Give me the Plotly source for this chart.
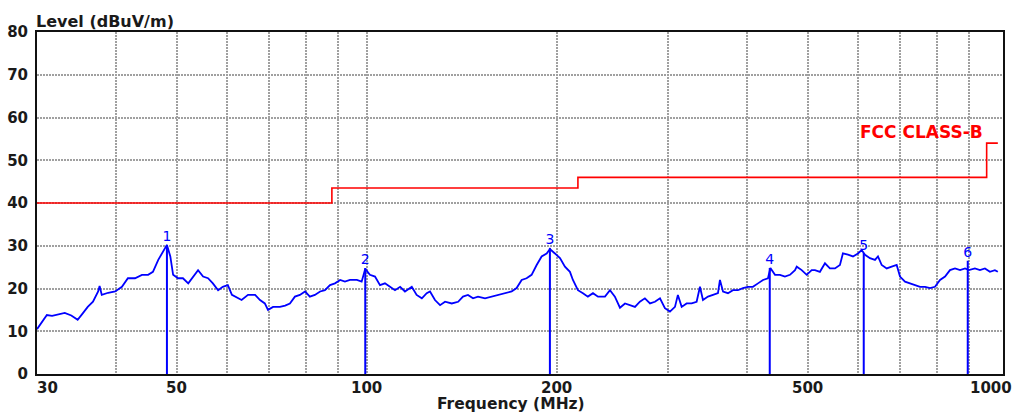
import math
import plotly.graph_objects as go

# ---- data ----
freq_mhz = [30.0, 30.5, 31.1, 31.7, 32.4, 33.2, 34.0, 34.8, 35.5, 36.1, 36.8, 37.5, 37.7, 38.0, 38.9, 39.9,
            40.9, 41.8, 42.9, 44.0, 45.0, 45.8, 46.7, 47.5, 48.2, 48.8, 49.3, 50.2, 51.1, 52.1, 53.0, 54.0,
            55.0, 56.0, 57.0, 58.1, 59.1, 60.2, 61.1, 61.8, 63.3, 64.8, 66.5, 67.7, 68.9, 69.7, 71.0, 72.8,
            74.2, 75.5, 76.9, 78.3, 79.8, 81.2, 82.7, 84.3, 85.8, 87.4, 89.0, 90.7, 92.3, 94.0, 96.4, 98.1,
            99.4, 101.1, 103.0, 104.9, 106.8, 108.8, 110.8, 112.9, 114.9, 117.8, 119.9, 122.2, 124.4, 125.9,
            128.2, 130.6, 133.0, 136.3, 139.5, 142.0, 144.6, 147.3, 150.0, 153.9, 157.7, 161.3, 165.5, 169.6,
            172.7, 175.9, 179.1, 182.4, 185.8, 189.2, 192.7, 195.0, 198.6, 202.3, 206.0, 209.8, 212.1, 216.0,
            220.0, 224.0, 228.2, 232.4, 238.4, 242.8, 247.2, 251.8, 256.5, 261.2, 266.0, 270.8, 275.8, 281.0,
            286.1, 291.4, 296.7, 302.2, 307.8, 311.1, 315.4, 321.2, 327.1, 333.1, 337.2, 340.9, 347.2, 353.6,
            360.1, 362.7, 366.8, 373.5, 380.3, 387.3, 394.5, 401.8, 409.1, 416.7, 424.4, 432.2, 436.0, 443.4,
            451.5, 459.8, 468.3, 477.0, 480.0, 488.8, 497.8, 506.9, 513.0, 522.4, 532.1, 541.8, 551.9, 562.0,
            568.1, 578.7, 589.4, 600.2, 608.4, 615.8, 627.1, 638.7, 645.7, 654.5, 666.6, 678.8, 691.3, 699.7,
            712.6, 725.7, 739.0, 752.8, 766.6, 780.7, 795.0, 809.8, 824.7, 839.8, 855.3, 871.2, 887.2, 899.8,
            919.7, 936.8, 954.0, 971.5, 989.3, 1000.0]
level_dbuv = [10.5, 11.9, 13.8, 13.6, 14.0, 14.3, 13.7, 12.7, 14.3, 15.7, 16.9, 19.3, 20.6, 18.5, 19.0, 19.3,
              20.4, 22.4, 22.4, 23.2, 23.2, 23.9, 26.7, 28.6, 30.2, 27.5, 23.2, 22.4, 22.4, 21.2, 22.8, 24.3,
              22.8, 22.4, 21.2, 19.6, 20.4, 20.8, 18.5, 18.1, 17.3, 18.5, 18.5, 17.3, 16.5, 15.0, 15.7, 15.7,
              16.0, 16.5, 18.1, 18.5, 19.3, 18.1, 18.5, 19.3, 19.6, 20.8, 21.2, 22.0, 21.6, 22.0, 22.0, 21.6,
              24.6, 23.2, 22.8, 20.8, 21.2, 20.4, 19.6, 20.4, 19.3, 20.4, 18.5, 17.7, 18.9, 19.3,
              17.3, 16.1, 16.9, 16.5, 16.9, 18.1, 18.5, 17.7, 18.1, 17.7, 18.1, 18.5, 18.9, 19.3,
              20.1, 22.0, 22.4, 23.2, 25.5, 27.5, 28.2, 29.2, 28.2, 27.1, 25.1, 23.9, 22.0, 19.6,
              18.9, 18.1, 18.9, 18.1, 18.1, 19.6, 18.1, 15.5, 16.5, 16.1, 15.7, 16.9, 17.7, 16.5,
              16.9, 17.7, 15.4, 14.6, 15.7, 18.5, 15.7, 16.5, 16.5, 16.9, 20.4, 17.3, 18.1, 18.5,
              18.9, 22.0, 19.3, 18.9, 19.6, 19.6, 20.1, 20.4, 20.4, 21.2, 22.0, 22.4, 24.8, 23.2,
              23.2, 22.8, 23.2, 24.3, 25.1, 24.3, 23.2, 24.3, 24.3, 23.9, 25.9, 24.7, 24.7, 25.5,
              28.2, 27.9, 27.5, 28.2, 29.0, 27.9, 27.1, 26.7, 27.5, 25.5, 24.7, 25.1, 25.5, 22.8,
              21.6, 21.2, 20.8, 20.4, 20.4, 20.1, 20.4, 22.0, 22.8, 24.3, 24.7, 24.3, 24.7, 24.3,
              24.7, 24.3, 24.7, 23.9, 24.3, 23.9]

limit_freq = [30, 88, 88, 216, 216, 960, 960, 1000]
limit_level = [40, 40, 43.5, 43.5, 46, 46, 54, 54]
limit_name = "FCC CLASS-B"

marker_ids = ["1", "2", "3", "4", "5", "6"]
marker_freq = [48.2, 99.4, 195.0, 435.0, 613.0, 896.0]
marker_level = [30.2, 24.8, 29.5, 24.8, 28.3, 26.5]

x_grid_vals = [40, 50, 60, 70, 80, 90, 100, 200, 300, 400, 500, 600, 700, 800, 900]
x_label_vals = [30, 50, 100, 200, 500, 1000]
x_label_text = ["30", "50", "100", "200", "500", "1000"]
y_tick_vals = [0, 10, 20, 30, 40, 50, 60, 70, 80]

FONT = "DejaVu Sans"
BLUE = "#0000FF"
RED = "#FF0000"
TXT = "#1a1a1a"

fig = go.Figure()

# measured trace
fig.add_trace(go.Scatter(x=freq_mhz, y=level_dbuv, mode="lines",
                         line=dict(color=BLUE, width=1.8), showlegend=False, hoverinfo="skip"))

# limit line
fig.add_trace(go.Scatter(x=limit_freq, y=limit_level, mode="lines",
                         line=dict(color=RED, width=1.6), showlegend=False, hoverinfo="skip"))

# marker vertical lines
mx, my = [], []
for f, l in zip(marker_freq, marker_level):
    mx += [f, f, None]
    my += [0, l, None]
fig.add_trace(go.Scatter(x=mx, y=my, mode="lines", line=dict(color=BLUE, width=2),
                         showlegend=False, hoverinfo="skip"))

# marker labels
fig.add_trace(go.Scatter(x=marker_freq, y=marker_level, mode="text", text=marker_ids,
                         textposition="top center",
                         textfont=dict(family=FONT, size=14, color=BLUE),
                         showlegend=False, hoverinfo="skip"))

annotations = []
# x tick labels (log axis: annotation x is given in log10 units)
shifts = {30: 10, 1000: -7}
for v, t in zip(x_label_vals, x_label_text):
    annotations.append(dict(x=math.log10(v), xref="x", y=0, yref="paper", text=t, showarrow=False,
                            xanchor="center", yanchor="middle", yshift=-13.5,
                            xshift=shifts.get(v, 0),
                            font=dict(family=FONT, size=15, color=TXT, weight="bold")))
# axis titles
annotations.append(dict(x=0, xref="paper", y=1, yref="paper", text="Level (dBuV/m)",
                        showarrow=False, xanchor="left", yanchor="middle", yshift=11, xshift=-3,
                        font=dict(family=FONT, size=16, color=TXT, weight="bold")))
annotations.append(dict(x=0.5, xref="paper", y=0, yref="paper", text="Frequency (MHz)",
                        showarrow=False, xanchor="center", yanchor="middle", yshift=-29.5, xshift=-9,
                        font=dict(family=FONT, size=15.5, color=TXT, weight="bold")))
# limit name
annotations.append(dict(x=math.log10(955), xref="x", y=56.6, yref="y", text=limit_name,
                        showarrow=False, xanchor="right", yanchor="middle",
                        font=dict(family=FONT, size=17, color=RED, weight="bold")))

fig.update_layout(
    template="none",
    width=1016, height=412, autosize=False,
    margin=dict(l=37, r=13, t=32, b=38, pad=0),
    plot_bgcolor="white", paper_bgcolor="white",
    annotations=annotations,
    xaxis=dict(type="log", range=[math.log10(30), math.log10(1019)], tickvals=x_grid_vals,
               showticklabels=False, ticks="", showgrid=True, gridcolor="#A0A0A0", gridwidth=2,
               griddash="2px,1px", showline=True, linecolor="#111111", linewidth=2, mirror=True,
               zeroline=False, automargin=False),
    yaxis=dict(range=[0, 80], tickvals=y_tick_vals, ticks="", ticklabelstandoff=4,
               tickfont=dict(family=FONT, size=15, color=TXT, weight="bold"),
               showgrid=True, gridcolor="#A0A0A0", gridwidth=2, griddash="2px,1px",
               showline=True, linecolor="#111111", linewidth=2, mirror=True, zeroline=False,
               automargin=False),
)

fig.write_html("out.html", config={"displayModeBar": False},
               post_script="document.body.style.margin='0';")
